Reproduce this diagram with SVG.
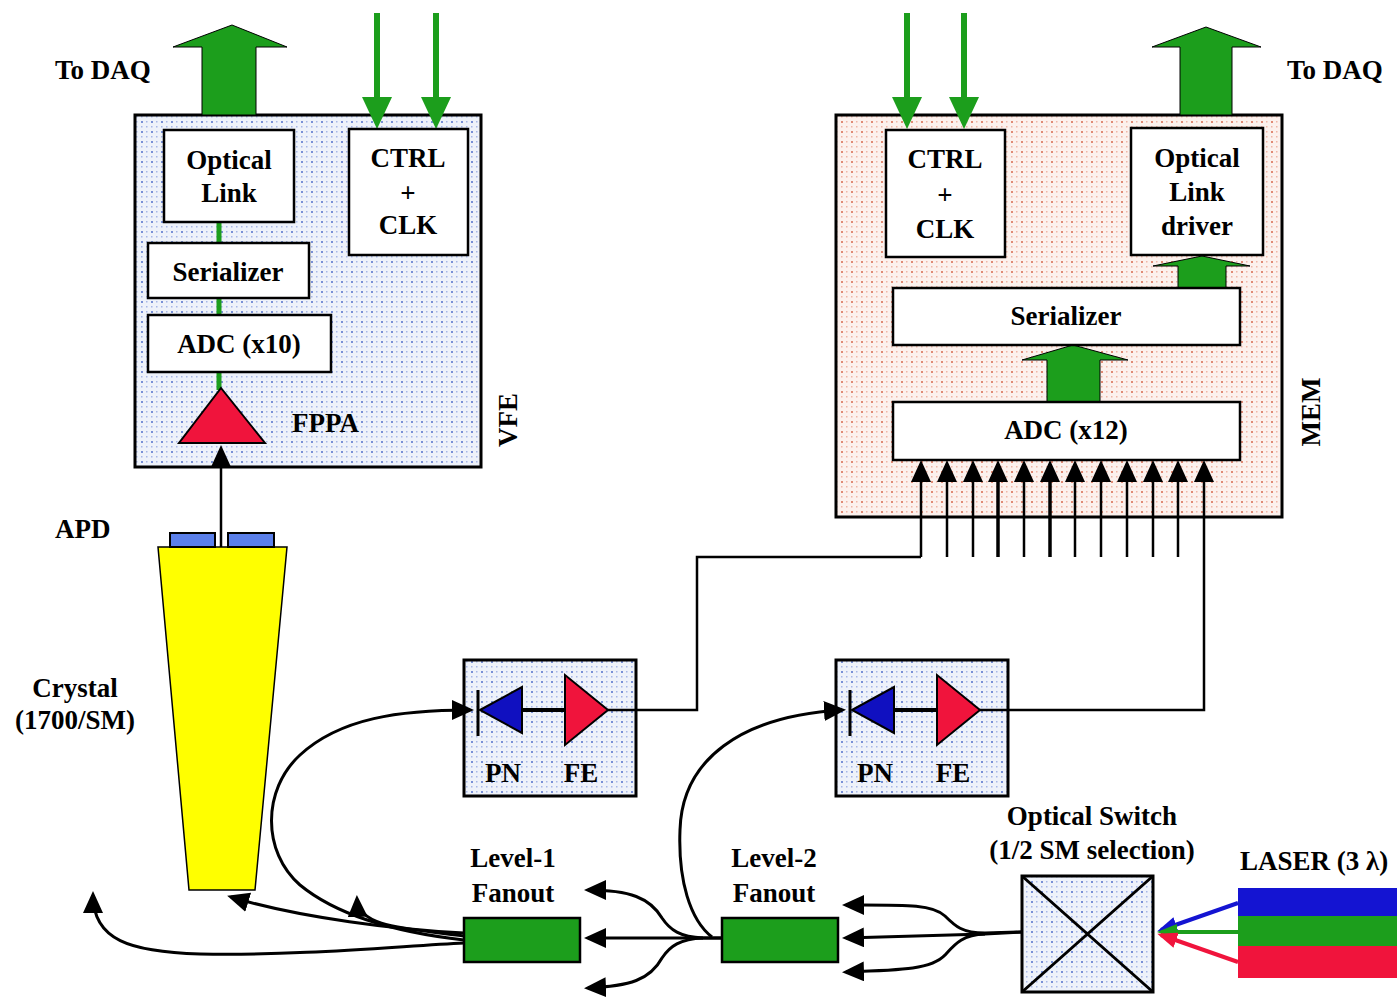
<svg xmlns="http://www.w3.org/2000/svg" width="1397" height="999" viewBox="0 0 1397 999">
  <style>
    .lbl { font-family: "Liberation Serif", "Times New Roman", serif; font-weight: bold; font-size: 27px; fill: #000; }
    .mid { text-anchor: middle; }
    .frame { stroke: #000; stroke-width: 3; }
    .box { fill: #fff; stroke: #000; stroke-width: 2.5; }
    .wire { fill: none; stroke: #000; stroke-width: 2.5; }
    .fiber { fill: none; stroke: #000; stroke-width: 3; }
    .grn { fill: #1c9e1c; }
    .grnline { stroke: #1c9e1c; stroke-width: 6; fill: none; }
  </style>
  <defs>
    <pattern id="dotsBlue" width="10" height="10" patternUnits="userSpaceOnUse">
      <rect width="10" height="10" fill="#eef2fa"/>
      <rect x="1" y="1" width="2" height="2" fill="#7890d6"/>
      <rect x="6" y="1" width="1.5" height="1.5" fill="#a6b6e6"/>
      <rect x="1" y="6" width="1.5" height="1.5" fill="#a6b6e6"/>
      <rect x="6" y="6" width="1.5" height="1.5" fill="#a6b6e6"/>
    </pattern>
    <pattern id="dotsRed" width="10" height="10" patternUnits="userSpaceOnUse">
      <rect width="10" height="10" fill="#fcf1ed"/>
      <rect x="1" y="1" width="2" height="2" fill="#e08a74"/>
      <rect x="6" y="1" width="1.5" height="1.5" fill="#eeb5a6"/>
      <rect x="1" y="6" width="1.5" height="1.5" fill="#eeb5a6"/>
      <rect x="6" y="6" width="1.5" height="1.5" fill="#eeb5a6"/>
    </pattern>
    <marker id="ah" viewBox="0 0 22 20" refX="18" refY="10" markerWidth="22" markerHeight="20" markerUnits="userSpaceOnUse" orient="auto">
      <path d="M0,0 L22,10 L0,20 z" fill="#000"/>
    </marker>
    <marker id="ahBlue" viewBox="0 0 20 16" refX="16" refY="8" markerWidth="20" markerHeight="16" markerUnits="userSpaceOnUse" orient="auto">
      <path d="M0,0 L20,8 L0,16 z" fill="#1414d2"/>
    </marker>
    <marker id="ahGreen" viewBox="0 0 20 16" refX="16" refY="8" markerWidth="20" markerHeight="16" markerUnits="userSpaceOnUse" orient="auto">
      <path d="M0,0 L20,8 L0,16 z" fill="#1c9e1c"/>
    </marker>
    <marker id="ahRed" viewBox="0 0 20 16" refX="16" refY="8" markerWidth="20" markerHeight="16" markerUnits="userSpaceOnUse" orient="auto">
      <path d="M0,0 L20,8 L0,16 z" fill="#f0143c"/>
    </marker>
  </defs>

  <rect width="1397" height="999" fill="#fff"/>

  <!-- Very-front-end board -->
  <g id="vfe">
    <rect x="135" y="115" width="346" height="352" fill="url(#dotsBlue)" class="frame"/>
    <text class="lbl mid" transform="translate(517,420) rotate(-90)">VFE</text>
    <polygon class="grn" points="202,115 202,47 173,47 232,25 287,47 256,47 256,115" stroke="#000" stroke-width="1"/>
    <text class="lbl" x="55" y="79">To DAQ</text>
    <path class="grnline" d="M377,13 V100 M436,13 V100"/>
    <polygon class="grn" points="362,97 392,97 377,129"/>
    <polygon class="grn" points="421,97 451,97 436,129"/>
    <path d="M219,222 V243 M219,298 V315 M219,372 V390" stroke="#1c9e1c" stroke-width="5"/>
  </g>
  <g id="vfe-optical-link">
    <rect class="box" x="164" y="130" width="130" height="92"/>
    <text class="lbl mid" x="229" y="169">Optical</text>
    <text class="lbl mid" x="229" y="202">Link</text>
  </g>
  <g id="vfe-ctrl">
    <rect class="box" x="349" y="129" width="119" height="126"/>
    <text class="lbl mid" x="408" y="167">CTRL</text>
    <text class="lbl mid" x="408" y="202">+</text>
    <text class="lbl mid" x="408" y="234">CLK</text>
  </g>
  <g id="vfe-serializer">
    <rect class="box" x="148" y="243" width="161" height="55"/>
    <text class="lbl mid" x="228" y="281">Serializer</text>
  </g>
  <g id="vfe-adc">
    <rect class="box" x="148" y="315" width="183" height="57"/>
    <text class="lbl mid" x="239" y="353">ADC (x10)</text>
  </g>
  <g id="fppa">
    <polygon points="221,388 179,443 265,443" fill="#f0143c" stroke="#000" stroke-width="2"/>
    <text class="lbl" x="292" y="432">FPPA</text>
  </g>

  <!-- Crystal with APD -->
  <g id="crystal">
    <polygon points="158,547 287,547 255,890 189,890" fill="#ffff00" stroke="#000" stroke-width="1.5"/>
    <rect x="170" y="533" width="45" height="14" fill="#5b80ea" stroke="#000" stroke-width="2"/>
    <rect x="228" y="533" width="46" height="14" fill="#5b80ea" stroke="#000" stroke-width="2"/>
    <text class="lbl" x="55" y="538">APD</text>
    <text class="lbl mid" x="75" y="697">Crystal</text>
    <text class="lbl mid" x="75" y="729">(1700/SM)</text>
  </g>

  <!-- Monitoring electronics module -->
  <g id="mem">
    <rect x="836" y="115" width="446" height="402" fill="url(#dotsRed)" class="frame"/>
    <text class="lbl mid" transform="translate(1320,412) rotate(-90)">MEM</text>
    <path class="grnline" d="M907,13 V100 M964,13 V100"/>
    <polygon class="grn" points="892,97 922,97 907,129"/>
    <polygon class="grn" points="949,97 979,97 964,129"/>
    <polygon class="grn" points="1180,115 1180,47 1152,47 1206,27 1261,47 1232,47 1232,115" stroke="#000" stroke-width="1"/>
    <text class="lbl" x="1287" y="79">To DAQ</text>
    <polygon class="grn" points="1178,288 1178,266 1153,266 1202,256 1250,266 1226,266 1226,288" stroke="#000" stroke-width="1"/>
    <polygon class="grn" points="1047,402 1047,360 1022,360 1073,345 1128,360 1100,360 1100,402" stroke="#000" stroke-width="1"/>
  </g>
  <g id="mem-ctrl">
    <rect class="box" x="886" y="130" width="119" height="127"/>
    <text class="lbl mid" x="945" y="168">CTRL</text>
    <text class="lbl mid" x="945" y="204">+</text>
    <text class="lbl mid" x="945" y="238">CLK</text>
  </g>
  <g id="mem-optical-link">
    <rect class="box" x="1131" y="128" width="132" height="127"/>
    <text class="lbl mid" x="1197" y="167">Optical</text>
    <text class="lbl mid" x="1197" y="201">Link</text>
    <text class="lbl mid" x="1197" y="235">driver</text>
  </g>
  <g id="mem-serializer">
    <rect class="box" x="893" y="288" width="347" height="57"/>
    <text class="lbl mid" x="1066" y="325">Serializer</text>
  </g>
  <g id="mem-adc">
    <rect class="box" x="893" y="402" width="347" height="58"/>
    <text class="lbl mid" x="1066" y="439">ADC (x12)</text>
  </g>

  <!-- PN diode + front-end boxes -->
  <g id="pn1">
    <rect x="464" y="660" width="172" height="136" fill="url(#dotsBlue)" class="frame"/>
    <line x1="478" y1="690" x2="478" y2="736" stroke="#000" stroke-width="3"/>
    <line x1="520" y1="710" x2="566" y2="710" stroke="#000" stroke-width="4"/>
    <polygon points="480,710 522,687 522,733" fill="#1010c0" stroke="#000" stroke-width="2"/>
    <polygon points="565,675 565,745 608,710" fill="#f0143c" stroke="#000" stroke-width="2"/>
    <text class="lbl mid" x="503" y="782">PN</text>
    <text class="lbl mid" x="581" y="782">FE</text>
  </g>
  <g id="pn2">
    <rect x="836" y="660" width="172" height="136" fill="url(#dotsBlue)" class="frame"/>
    <line x1="850" y1="690" x2="850" y2="736" stroke="#000" stroke-width="3"/>
    <line x1="892" y1="710" x2="938" y2="710" stroke="#000" stroke-width="4"/>
    <polygon points="852,710 894,687 894,733" fill="#1010c0" stroke="#000" stroke-width="2"/>
    <polygon points="937,675 937,745 980,710" fill="#f0143c" stroke="#000" stroke-width="2"/>
    <text class="lbl mid" x="875" y="782">PN</text>
    <text class="lbl mid" x="953" y="782">FE</text>
  </g>

  <!-- Fanouts, switch, laser -->
  <g id="fanout1">
    <rect x="464" y="918" width="116" height="44" fill="#1c9e1c" stroke="#000" stroke-width="2.5"/>
    <text class="lbl mid" x="513" y="867">Level-1</text>
    <text class="lbl mid" x="513" y="902">Fanout</text>
  </g>
  <g id="fanout2">
    <rect x="722" y="918" width="116" height="44" fill="#1c9e1c" stroke="#000" stroke-width="2.5"/>
    <text class="lbl mid" x="774" y="867">Level-2</text>
    <text class="lbl mid" x="774" y="902">Fanout</text>
  </g>
  <g id="optical-switch">
    <rect x="1022" y="876" width="131" height="116" fill="url(#dotsBlue)" class="frame"/>
    <path d="M1022,876 L1153,992 M1153,876 L1022,992" stroke="#000" stroke-width="3"/>
    <text class="lbl mid" x="1092" y="825">Optical Switch</text>
    <text class="lbl mid" x="1092" y="859">(1/2 SM selection)</text>
  </g>
  <g id="laser">
    <rect x="1238" y="888" width="159" height="28" fill="#1414d2"/>
    <rect x="1238" y="916" width="159" height="30" fill="#1c9e1c"/>
    <rect x="1238" y="946" width="159" height="32" fill="#f0143c"/>
    <text class="lbl" x="1240" y="870">LASER (3 λ)</text>
  </g>

  <g id="connectors">
    <!-- APD to FPPA -->
    <line class="wire" x1="221" y1="547" x2="221" y2="449" marker-end="url(#ah)"/>
    <!-- twelve ADC inputs -->
    <g class="wire" marker-end="url(#ah)">
      <path d="M921,557 V464"/>
      <path d="M947,557 V464"/>
      <path d="M973,557 V464"/>
      <path d="M998,557 V464" stroke-width="3.5"/>
      <path d="M1024,557 V464"/>
      <path d="M1050,557 V464" stroke-width="3.5"/>
      <path d="M1075,557 V464"/>
      <path d="M1101,557 V464"/>
      <path d="M1127,557 V464"/>
      <path d="M1153,557 V464"/>
      <path d="M1178,557 V464"/>
      <path d="M1204,557 V464"/>
    </g>
    <path class="wire" d="M608,710 H697 V557 H921"/>
    <path class="wire" d="M980,710 H1204 V557"/>
    <!-- laser to switch -->
    <line x1="1238" y1="903" x2="1161" y2="930" stroke="#1414d2" stroke-width="4" marker-end="url(#ahBlue)"/>
    <line x1="1238" y1="932" x2="1161" y2="932" stroke="#1c9e1c" stroke-width="4" marker-end="url(#ahGreen)"/>
    <line x1="1238" y1="962" x2="1161" y2="935" stroke="#f0143c" stroke-width="4" marker-end="url(#ahRed)"/>
    <!-- switch to level-2 fanout -->
    <g class="fiber" marker-end="url(#ah)">
      <path d="M1022,932 L985,933 C962,933 955,926 945,916 C932,904 905,905 846,905"/>
      <path d="M1022,932 L985,934 L846,938"/>
      <path d="M985,934 C962,935 955,944 945,955 C932,969 905,970 846,972"/>
    </g>
    <!-- level-2 to level-1 and to PN2 -->
    <g class="fiber" marker-end="url(#ah)">
      <path d="M722,938 L703,938 C680,937 670,930 662,918 C650,898 630,890 588,890"/>
      <path d="M722,938 L588,938"/>
      <path d="M703,938 C680,939 670,946 662,958 C650,980 630,986 588,988"/>
      <path d="M712,937 C690,920 678,880 680,830 C682,760 740,716 842,710"/>
    </g>
    <!-- level-1 to crystal, PN1 and neighbours -->
    <g class="fiber" marker-end="url(#ah)">
      <path d="M464,933 C400,930 300,918 231,897"/>
      <path d="M464,936 C400,928 358,926 357,899"/>
      <path d="M464,940 C420,935 345,922 300,885 C262,852 262,790 300,755 C340,718 400,710 470,710"/>
      <path d="M464,943 C400,946 300,956 200,954 C130,952 93,940 93,895"/>
    </g>
  </g>
</svg>
